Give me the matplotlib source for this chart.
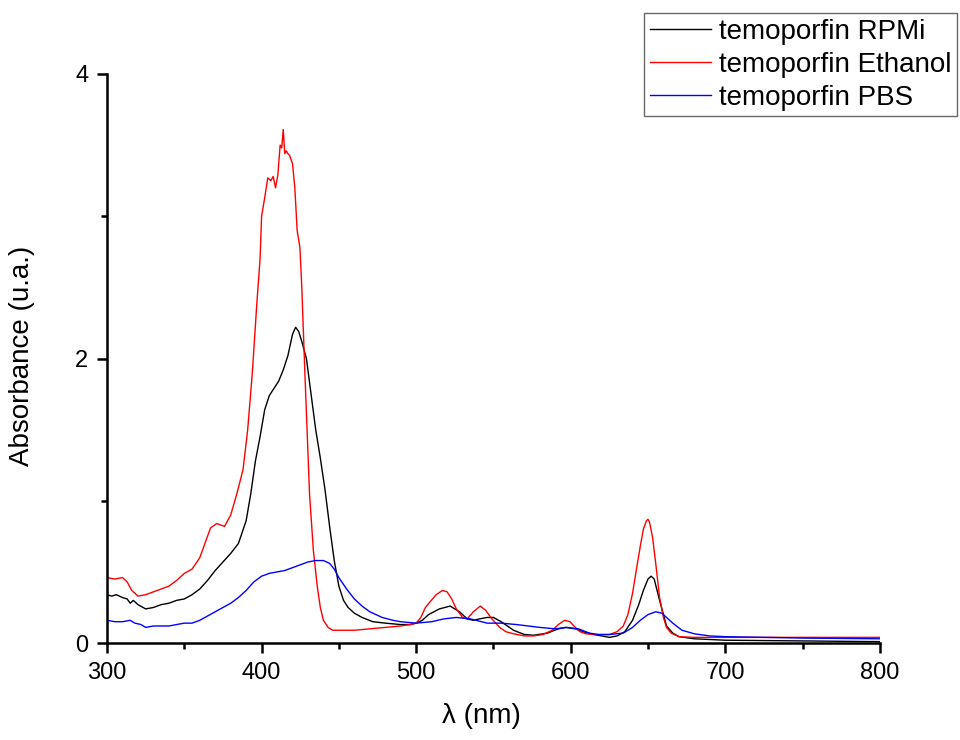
#!/usr/bin/env python
"""Temoporfin UV-vis absorbance in RPMi, ethanol and PBS."""
import numpy as np
import matplotlib
matplotlib.use('Agg')
import matplotlib.pyplot as plt
from matplotlib.ticker import MultipleLocator

plt.rcParams['font.family'] = ['Liberation Sans', 'DejaVu Sans']

# values (wavelength nm, absorbance)
wl_rpmi = [300, 303, 306, 310, 313, 315, 317, 320, 325, 330, 335, 340, 345, 350, 355,
           360, 365, 370, 375, 380, 385, 390, 393, 396, 399, 402, 405, 408, 411, 414,
           417, 420, 422, 424, 426, 429, 432, 435, 438, 441, 444, 447, 450, 453, 456,
           460, 465, 472, 480, 490, 496, 500, 504, 508, 515, 522, 528, 533, 537, 541,
           546, 550, 555, 563, 570, 576, 585, 592, 597, 603, 608, 615, 620, 625, 630,
           635, 640, 644, 647, 650, 652, 654, 657.5, 660, 662, 666, 670, 680, 700, 750, 800]
abs_rpmi = [0.34, 0.33, 0.34, 0.32, 0.31, 0.28, 0.30, 0.27, 0.24, 0.25, 0.27, 0.28, 0.30, 0.31, 0.34,
            0.38, 0.44, 0.51, 0.57, 0.63, 0.70, 0.86, 1.05, 1.28, 1.45, 1.64, 1.74, 1.79, 1.84, 1.92,
            2.02, 2.17, 2.22, 2.19, 2.12, 2.00, 1.75, 1.50, 1.30, 1.08, 0.82, 0.58, 0.40, 0.30, 0.25,
            0.21, 0.18, 0.15, 0.14, 0.13, 0.13, 0.14, 0.16, 0.20, 0.24, 0.26, 0.22, 0.17, 0.16, 0.17,
            0.18, 0.18, 0.15, 0.09, 0.06, 0.055, 0.07, 0.10, 0.11, 0.10, 0.08, 0.06, 0.05, 0.04, 0.05,
            0.08, 0.16, 0.27, 0.37, 0.45, 0.47, 0.45, 0.30, 0.20, 0.12, 0.07, 0.045, 0.03, 0.02, 0.015, 0.01]

wl_eth = [300, 305, 310, 313, 316, 320, 325, 330, 335, 340, 345, 350, 355, 360, 364,
          367, 371, 376, 380, 384, 388, 391, 394, 397, 399, 400, 402, 404, 406, 407.5,
          409, 410.5, 412, 413, 414, 415, 416, 417, 418, 420, 421.5, 423, 424.8, 426, 428,
          431, 433.5, 436, 438, 440, 443, 446, 450, 460, 470, 480, 490, 496, 500, 503,
          506, 509, 513, 517, 520, 523, 526, 530, 533, 537, 541.5, 545, 549, 554, 558,
          563, 570, 576, 582, 588, 592, 596, 599.5, 603, 606, 610, 615, 620, 625, 630,
          634, 637, 640, 643, 645, 647, 649, 650, 651, 653, 655, 657.5, 660, 662, 665,
          670, 680, 700, 750, 800]
abs_eth = [0.46, 0.45, 0.46, 0.43, 0.37, 0.33, 0.34, 0.36, 0.38, 0.40, 0.44, 0.49, 0.52, 0.60, 0.72,
           0.81, 0.84, 0.82, 0.90, 1.05, 1.22, 1.50, 1.90, 2.40, 2.70, 3.00, 3.13, 3.27, 3.25, 3.28,
           3.20, 3.29, 3.50, 3.48, 3.61, 3.44, 3.46, 3.44, 3.43, 3.37, 3.20, 2.90, 2.78, 2.50, 1.90,
           1.05, 0.65, 0.40, 0.25, 0.16, 0.11, 0.09, 0.09, 0.09, 0.10, 0.11, 0.12, 0.13, 0.14, 0.18,
           0.25, 0.29, 0.34, 0.37, 0.36, 0.31, 0.24, 0.18, 0.17, 0.22, 0.26, 0.23, 0.17, 0.11, 0.08,
           0.065, 0.05, 0.05, 0.06, 0.09, 0.13, 0.16, 0.15, 0.11, 0.08, 0.065, 0.06, 0.06, 0.06, 0.08,
           0.12, 0.20, 0.35, 0.55, 0.68, 0.80, 0.86, 0.87, 0.85, 0.74, 0.56, 0.32, 0.18, 0.11, 0.07,
           0.045, 0.04, 0.04, 0.04, 0.04]

wl_pbs = [300, 305, 310, 315, 318, 322, 325, 330, 335, 340, 345, 350, 355, 360, 365,
          370, 375, 380, 385, 390, 395, 400, 405, 410, 415, 420, 425, 430, 435, 440,
          444, 447, 450, 455, 460, 465, 470, 478, 485, 490, 500, 510, 518, 526, 535,
          546, 555, 565, 580, 590, 597, 605, 612, 618, 625, 634, 640, 645, 650, 655,
          659, 662, 666, 672, 680, 690, 700, 750, 800]
abs_pbs = [0.16, 0.15, 0.15, 0.16, 0.14, 0.13, 0.11, 0.12, 0.12, 0.12, 0.13, 0.14, 0.14, 0.16, 0.19,
           0.22, 0.25, 0.28, 0.32, 0.37, 0.43, 0.47, 0.49, 0.50, 0.51, 0.53, 0.55, 0.57, 0.58, 0.58,
           0.56, 0.52, 0.46, 0.38, 0.31, 0.26, 0.22, 0.18, 0.16, 0.15, 0.14, 0.15, 0.17, 0.18, 0.17,
           0.14, 0.14, 0.13, 0.11, 0.10, 0.11, 0.10, 0.07, 0.06, 0.06, 0.07, 0.11, 0.16, 0.20, 0.22,
           0.21, 0.18, 0.14, 0.09, 0.065, 0.05, 0.045, 0.035, 0.03]

labels = ['temoporfin RPMi', 'temoporfin Ethanol', 'temoporfin PBS']

fig = plt.figure(figsize=(9.6, 7.4), dpi=100)
ax = fig.add_axes([0.1115, 0.131, 0.805, 0.769])

ax.plot(wl_rpmi, abs_rpmi, color='black', lw=1.0, label=labels[0])
ax.plot(wl_eth, abs_eth, color='red', lw=1.0, label=labels[1])
ax.plot(wl_pbs, abs_pbs, color='blue', lw=1.0, label=labels[2])

ax.set_xlim(300, 800)
ax.set_ylim(0, 4)
ax.xaxis.set_major_locator(MultipleLocator(100))
ax.xaxis.set_minor_locator(MultipleLocator(50))
ax.yaxis.set_major_locator(MultipleLocator(2))
ax.yaxis.set_minor_locator(MultipleLocator(1))
for s in ['top', 'right']:
    ax.spines[s].set_visible(False)
for s in ['left', 'bottom']:
    ax.spines[s].set_linewidth(1.8)
ax.tick_params(which='major', direction='out', length=7.5, width=1.8, labelsize=17, pad=6)
ax.tick_params(which='minor', direction='out', length=4, width=1.8)

ax.set_xlabel('λ (nm)', fontsize=20)
ax.set_ylabel('Absorbance (u.a.)', fontsize=20)
ax.xaxis.set_label_coords(0.484, -0.105)
ax.yaxis.set_label_coords(-0.093, 0.504)

leg = ax.legend(loc='upper right', bbox_to_anchor=(0.997, 0.982), bbox_transform=fig.transFigure,
                borderaxespad=0, fontsize=20, frameon=True, fancybox=False,
                handlelength=2.2, handletextpad=0.3, labelspacing=0.25, borderpad=0.2)
leg.get_frame().set_edgecolor('#444444')
leg.get_frame().set_linewidth(1.0)

fig.savefig('out.png', dpi=100)
